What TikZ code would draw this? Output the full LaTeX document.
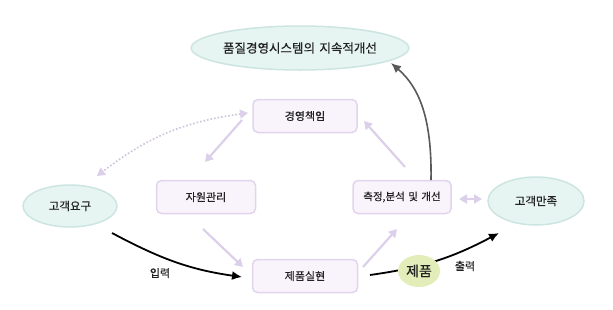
\documentclass[tikz,border=0pt]{standalone}
\usepackage{fontspec}
\setmainfont{Noto Sans CJK KR}[FakeBold=0.4]
\usetikzlibrary{arrows.meta,shapes.geometric}
\definecolor{lpur}{HTML}{DCCFEA}
\definecolor{boxfill}{HTML}{F9F4FB}
\definecolor{boxline}{HTML}{E2D4EC}
\definecolor{elfill}{HTML}{E6F4F2}
\definecolor{elline}{HTML}{CDE5E1}
\definecolor{prodfill}{HTML}{E2EDBA}
\definecolor{txt}{HTML}{222222}
\tikzset{
  stepbox/.style={draw=boxline,fill=boxfill,line width=1.5pt,rounded corners=5pt,minimum width=104pt,minimum height=33pt,font=\fontsize{11}{13}\selectfont,text=txt},
  goal/.style={ellipse,draw=elline,fill=elfill,line width=1.5pt,inner sep=0pt,text=txt},
  lparrow/.style={draw=lpur,line width=2.2pt,-{Triangle[width=9pt,length=8pt]}},
  blarrow/.style={draw=black,line width=1.8pt,-{Latex[width=9pt,length=10pt]}},
  grarrow/.style={draw=black!65,line width=1.6pt,-{Latex[width=9pt,length=10pt]}},
  lbl/.style={font=\fontsize{11}{13}\selectfont,text=txt}
}
\begin{document}
\begin{tikzpicture}[x=1pt,y=-1pt]
\useasboundingbox (0,0) rectangle (613,309);
% goals
\node[goal,minimum width=202pt,minimum height=44pt,font=\fontsize{12.5}{14}\selectfont] (top) at (300,48) {품질경영시스템의\hspace{0.35em}지속적개선};
\node[goal,minimum width=94pt,minimum height=42pt,font=\fontsize{11.5}{13}\selectfont] (req) at (70,206) {고객요구};
\node[goal,minimum width=96pt,minimum height=48pt,font=\fontsize{11.5}{13}\selectfont] (sat) at (536,201) {고객만족};
% boxes
\node[stepbox] (mgmt) at (305,116) {경영책임};
\node[stepbox,minimum width=99pt] (res) at (206,197) {자원관리};
\node[stepbox,minimum width=98pt,font=\fontsize{10.5}{13}\selectfont] (meas) at (402,197) {측정,분석\hspace{0.1em} 및\hspace{0.1em} 개선};
\node[stepbox,minimum width=105pt] (real) at (305,276) {제품실현};
% arrow ends
\coordinate (a1s) at (242,120); \coordinate (a1e) at (205,162);
\coordinate (a2s) at (203,229); \coordinate (a2e) at (243,267);
\coordinate (a3s) at (363,267); \coordinate (a3e) at (397,229);
\coordinate (a4s) at (405,167); \coordinate (a4e) at (364,121);
\coordinate (a5s) at (459,199); \coordinate (a5e) at (482,199);
\coordinate (dts) at (248,113); \coordinate (dte) at (97,176);
\coordinate (ins) at (112,233); \coordinate (ine) at (242,277);
\coordinate (outs) at (370,275); \coordinate (oute) at (499,233);
\coordinate (grs) at (431,180); \coordinate (gre) at (391,63);
% light purple arrows
\draw[lparrow] (a1s) -- (a1e);
\draw[lparrow] (a2s) -- (a2e);
\draw[lparrow] (a3s) -- (a3e);
\draw[lparrow] (a4s) -- (a4e);
\draw[draw=lpur,line width=2.2pt,{Triangle[width=9pt,length=8pt]}-{Triangle[width=9pt,length=8pt]}] (a5s) -- (a5e);
% dotted
\draw[draw=lpur!85!gray,line width=1.6pt,dotted,{Triangle[width=9pt,length=8pt,color=lpur]}-{Triangle[width=9pt,length=8pt,color=lpur]}] (dts) to[bend right=15] (dte);
% gray
\draw[grarrow] (grs) .. controls (432,120) and (420,88) .. (gre);
% black
\draw[blarrow] (ins) to[out=-28,in=172] (ine);
\draw[blarrow] (outs) to[out=8,in=-152] (oute);
% product
\node[ellipse,fill=prodfill,minimum width=42pt,minimum height=32pt,inner sep=0pt,font=\fontsize{14}{16}\selectfont,text=txt] (prod) at (419,271) {제품};
\node[lbl] (inl) at (160,273) {입력};
\node[lbl] (outl) at (465,266) {출력};
\end{tikzpicture}
\end{document}
